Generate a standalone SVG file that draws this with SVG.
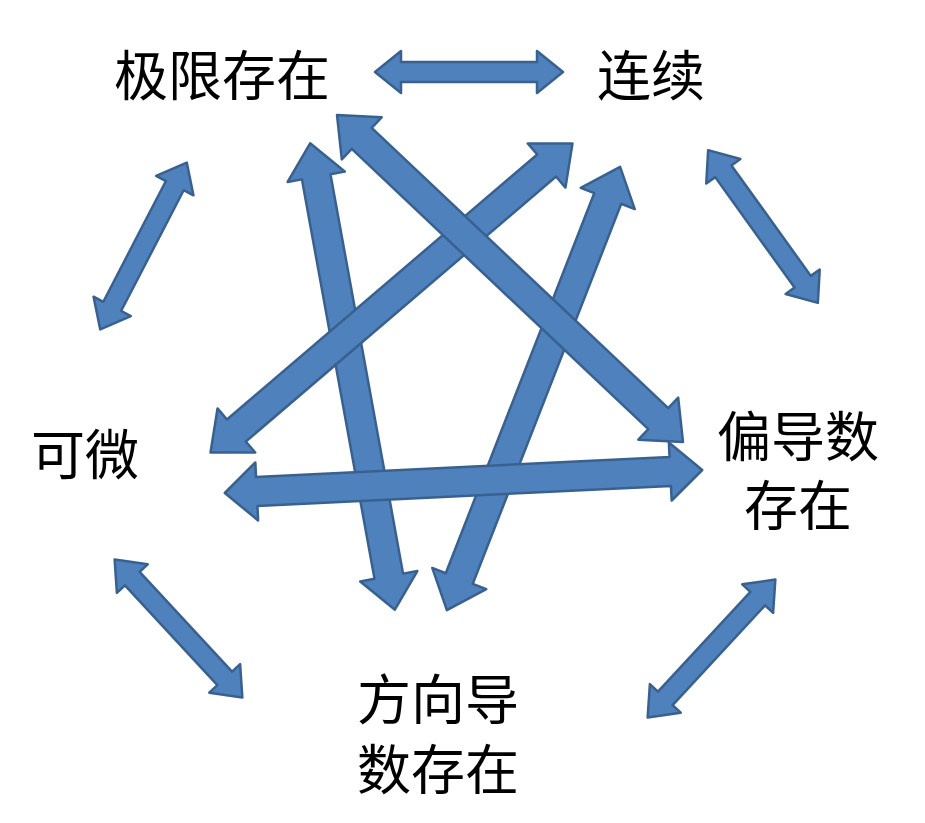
<svg xmlns="http://www.w3.org/2000/svg" width="925" height="823" viewBox="0 0 925 823">
<style>
.a{fill:#4f81bd;stroke:#38618f;stroke-width:2.5;stroke-linejoin:round}
.t{font-family:"Noto Sans CJK SC","Noto Sans CJK JP",sans-serif;font-size:54px;fill:#000}
</style>
<defs>
<polygon id="s" points="-94,0 -68,-21 -68,-10 68,-10 68,-21 94,0 68,21 68,10 -68,10 -68,21"/>
</defs>
<rect width="925" height="823" fill="#fff"/>
<g id="connectors">
<use href="#s" class="a" transform="translate(469,72)"/>
<use href="#s" class="a" transform="translate(143.5,246) rotate(117.4)"/>
<use href="#s" class="a" transform="translate(763,226.5) rotate(54.3)"/>
<use href="#s" class="a" transform="translate(178.5,628.5) rotate(47.2)"/>
<use href="#s" class="a" transform="translate(711.5,648.5) rotate(132.8)"/>
<polygon class="a" transform="translate(352.5,376.5) rotate(79.7)" points="-237,0 -203,-29 -203,-14.5 203,-14.5 203,-29 237,0 203,29 203,14.5 -203,14.5 -203,29"/>
<polygon class="a" transform="translate(533.5,388.5) rotate(111.34)" points="-238,0 -204,-29 -204,-14.5 204,-14.5 204,-29 238,0 204,29 204,14.5 -204,14.5 -204,29"/>
<polygon class="a" transform="translate(391.5,298) rotate(-40.5)" points="-238,0 -204,-29 -204,-14.5 204,-14.5 204,-29 238,0 204,29 204,14.5 -204,14.5 -204,29"/>
<polygon class="a" transform="translate(510,278.5) rotate(43.38)" points="-238,0 -204,-29 -204,-14.5 204,-14.5 204,-29 238,0 204,29 204,14.5 -204,14.5 -204,29"/>
<polygon class="a" transform="translate(463.5,481.5) rotate(-2.76)" points="-239,0 -207,-29 -207,-14.5 207,-14.5 207,-29 239,0 207,29 207,14.5 -207,14.5 -207,29"/>
</g>
<g id="n1"><text class="t" x="114" y="96">极限存在</text></g>
<g id="n2"><text class="t" x="597" y="96">连续</text></g>
<g id="n3"><text class="t" x="31" y="475">可微</text></g>
<g id="n4"><text class="t" x="717" y="457">偏导数</text><text class="t" x="744" y="526">存在</text></g>
<g id="n5"><text class="t" x="357" y="720">方向导</text><text class="t" x="357" y="790">数存在</text></g>
</svg>
